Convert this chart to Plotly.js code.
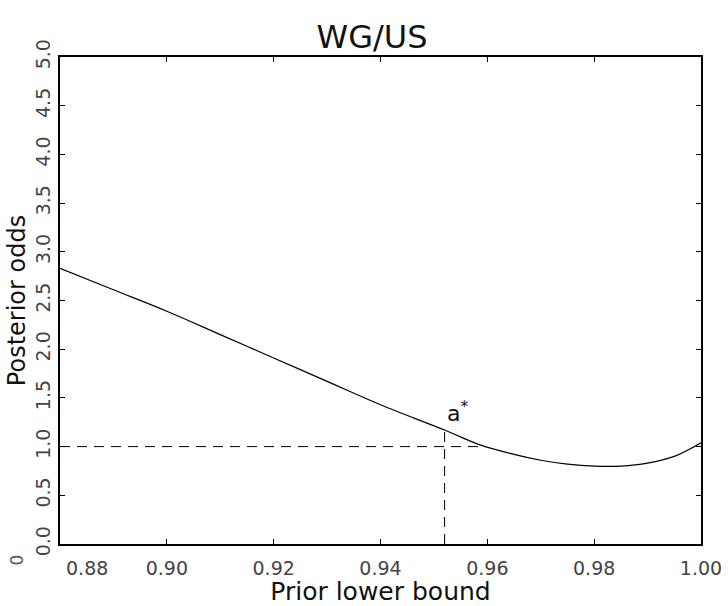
<!DOCTYPE html>
<html>
<head>
<meta charset="utf-8">
<script src="https://cdn.plot.ly/plotly-3.0.1.min.js"></script>
<style>
  html, body { margin: 0; padding: 0; background: #fff; }
  #chart { width: 728px; height: 606px; }
</style>
</head>
<body>
<div id="chart"></div>
<script>
// Posterior odds as a function of the prior lower bound (WG/US)
const priorBound = [0.880, 0.890, 0.900, 0.910, 0.920, 0.930, 0.940, 0.952,
                    0.9585, 0.965, 0.970, 0.975, 0.980, 0.985, 0.990, 0.995, 1.000];
const posteriorOdds = [2.83, 2.61, 2.39, 2.15, 1.91, 1.67, 1.43, 1.17,
                       1.02, 0.92, 0.86, 0.82, 0.80, 0.80, 0.83, 0.90, 1.04];

// Reference guides: odds = 1 level and the a* position
const evenOddsX = [0.880, 0.9585];
const evenOddsY = [1.0, 1.0];
const aStarX = [0.952, 0.952];
const aStarY = [0.0, 1.17];
const aStarLabel = 'a<sup>*</sup>';

const NB = '\u00a0';
const xTicks = [0.88, 0.90, 0.92, 0.94, 0.96, 0.98, 1.00];
const xTickText = [NB.repeat(9) + '0.88', '0.90', '0.92', '0.94', '0.96', '0.98', '1.00'];
const yTicks = [0.0, 0.5, 1.0, 1.5, 2.0, 2.5, 3.0, 3.5, 4.0, 4.5, 5.0];
const yTickText = ['0.0', '0.5', '1.0', '1.5', '2.0', '2.5', '3.0', '3.5', '4.0', '4.5', '5.0'];

const FONT = 'DejaVu Sans, Liberation Sans, sans-serif';

// plot box in pixels
const W = 728, H = 606, ML = 60, MR = 27, MT = 57, MB = 62;
const px2fx = px => (px - ML) / (W - ML - MR);
const py2fy = py => (H - MB - py) / (H - MT - MB);

const traces = [
  {
    x: priorBound, y: posteriorOdds, type: 'scatter', mode: 'lines',
    line: { color: '#000', width: 1.2, shape: 'spline', smoothing: 1 },
    hoverinfo: 'skip'
  },
  {
    x: evenOddsX, y: evenOddsY, type: 'scatter', mode: 'lines',
    line: { color: '#000', width: 1, dash: '10px,7px' }, hoverinfo: 'skip'
  },
  {
    x: aStarX, y: aStarY, type: 'scatter', mode: 'lines',
    line: { color: '#000', width: 1, dash: '10px,7px' }, hoverinfo: 'skip'
  }
];

const layout = {
  width: W, height: H,
  margin: { l: ML, r: MR, t: MT, b: MB },
  paper_bgcolor: '#fff', plot_bgcolor: '#fff',
  showlegend: false,
  font: { family: FONT, color: '#000' },
  title: {
    text: 'WG/US', font: { family: FONT, size: 32, color: '#111' },
    x: px2fx(372), xanchor: 'center', xref: 'paper',
    y: 1 - 37 / H, yanchor: 'middle', yref: 'container'
  },
  xaxis: {
    range: [0.88, 1.0], tickvals: xTicks, ticktext: xTickText,
    ticks: 'inside', ticklen: 5, tickcolor: '#000', mirror: 'ticks',
    showline: true, linecolor: '#000', linewidth: 2,
    showgrid: false, zeroline: false,
    ticklabelstandoff: 6,
    tickfont: { family: FONT, size: 19, color: '#444' },
    title: { text: 'Prior lower bound', font: { family: FONT, size: 25, color: '#111' }, standoff: 6 }
  },
  yaxis: {
    range: [0, 5], tickvals: yTicks, ticktext: yTickText, tickangle: -90,
    ticks: 'inside', ticklen: 5, tickcolor: '#000', mirror: 'ticks',
    showline: true, linecolor: '#000', linewidth: 2,
    showgrid: false, zeroline: false,
    tickfont: { family: FONT, size: 19, color: '#444' },
    title: { text: 'Posterior odds', font: { family: FONT, size: 24, color: '#111' }, standoff: 0 }
  },
  annotations: [
    {
      x: aStarX[0], y: 1.36, xref: 'x', yref: 'y', text: aStarLabel,
      showarrow: false, xanchor: 'left', yanchor: 'middle',
      font: { family: FONT, size: 22, color: '#111' }
    },
    {
      // lone rotated "0" in the lower-left corner
      x: px2fx(4), y: py2fy(568), xref: 'paper', yref: 'paper', text: '0',
      showarrow: false, textangle: -90, font: { family: FONT, size: 17, color: '#555' }
    }
  ]
};

Plotly.newPlot('chart', traces, layout, { displayModeBar: false, staticPlot: true });
</script>
</body>
</html>
